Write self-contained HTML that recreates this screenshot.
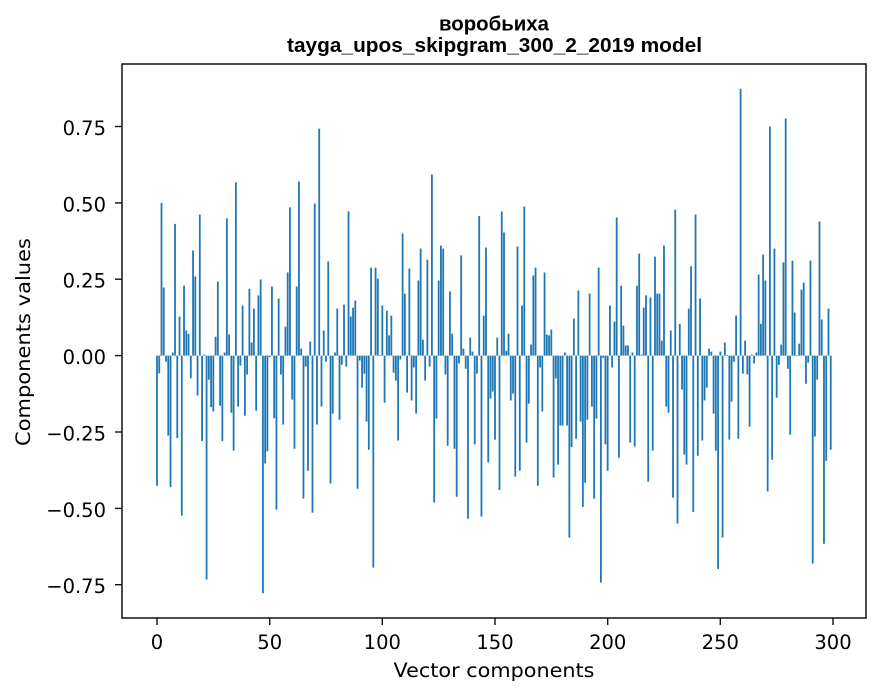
<!DOCTYPE html>
<html><head><meta charset="utf-8"><style>
html,body{margin:0;padding:0;background:#fff;}
svg{display:block;}
.t{font-family:"DejaVu Sans","Liberation Sans",sans-serif;font-size:19.5px;fill:#000;}
.ti{font-family:"Liberation Sans","DejaVu Sans",sans-serif;font-weight:bold;font-size:20.6px;fill:#000;}
</style></head><body>
<svg width="880" height="696" viewBox="0 0 880 696" xmlns="http://www.w3.org/2000/svg">
<rect x="0" y="0" width="880" height="696" fill="#fff"/>
<g transform="translate(157,355.6) scale(2.2533,-305.5)" fill="#1f77b4">
<path d="M-.4 0h.8V-.426h-.8zM.6 0h.8V-.058h-.8zM1.6 0h.8V.5h-.8zM2.6 0h.8V.223h-.8zM3.6 0h.8V-.02h-.8zM4.6 0h.8V-.262h-.8zM5.6 0h.8V-.43h-.8zM6.6 0h.8V.01h-.8zM7.6 0h.8V.431h-.8zM8.6 0h.8V-.27h-.8zM9.6 0h.8V.128h-.8zM10.6 0h.8V-.524h-.8zM11.6 0h.8V.229h-.8zM12.6 0h.8V.082h-.8zM13.6 0h.8V.071h-.8zM14.6 0h.8V-.074h-.8zM15.6 0h.8V.344h-.8zM16.6 0h.8V.259h-.8zM17.6 0h.8V-.131h-.8zM18.6 0h.8V.462h-.8zM19.6 0h.8V-.28h-.8zM20.6 0h.8V.003h-.8zM21.6 0h.8V-.733h-.8zM22.6 0h.8V-.079h-.8zM23.6 0h.8V-.169h-.8zM24.6 0h.8V-.183h-.8zM25.6 0h.8V.062h-.8zM26.6 0h.8V.242h-.8zM27.6 0h.8V-.164h-.8zM28.6 0h.8V-.28h-.8zM29.6 0h.8V.01h-.8zM30.6 0h.8V.449h-.8zM31.6 0h.8V.069h-.8zM32.6 0h.8V-.187h-.8zM33.6 0h.8V-.311h-.8zM34.6 0h.8V.567h-.8zM35.6 0h.8V-.167h-.8zM36.6 0h.8V-.033h-.8zM37.6 0h.8V.164h-.8zM38.6 0h.8V-.197h-.8zM39.6 0h.8V-.062h-.8zM40.6 0h.8V.219h-.8zM41.6 0h.8V.043h-.8zM42.6 0h.8V.154h-.8zM43.6 0h.8V-.18h-.8zM44.6 0h.8V.197h-.8zM45.6 0h.8V.249h-.8zM46.6 0h.8V-.778h-.8zM47.6 0h.8V-.353h-.8zM48.6 0h.8V-.313h-.8zM49.6 0h.8V-.005h-.8z
M50.6 0h.8V.226h-.8zM51.6 0h.8V-.205h-.8zM52.6 0h.8V-.504h-.8zM53.6 0h.8V.187h-.8zM54.6 0h.8V-.062h-.8zM55.6 0h.8V-.226h-.8zM56.6 0h.8V.095h-.8zM57.6 0h.8V.272h-.8zM58.6 0h.8V.485h-.8zM59.6 0h.8V-.144h-.8zM60.6 0h.8V-.305h-.8zM61.6 0h.8V.226h-.8zM62.6 0h.8V.57h-.8zM63.6 0h.8V.023h-.8zM64.6 0h.8V-.468h-.8zM65.6 0h.8V-.036h-.8zM66.6 0h.8V-.377h-.8zM67.6 0h.8V.046h-.8zM68.6 0h.8V-.514h-.8zM69.6 0h.8V.498h-.8zM70.6 0h.8V-.226h-.8zM71.6 0h.8V.743h-.8zM72.6 0h.8V-.167h-.8zM73.6 0h.8V.082h-.8zM74.6 0h.8V-.02h-.8zM75.6 0h.8V.308h-.8zM76.6 0h.8V-.419h-.8zM77.6 0h.8V-.19h-.8zM78.6 0h.8V.01h-.8zM79.6 0h.8V.154h-.8zM80.6 0h.8V-.21h-.8zM81.6 0h.8V-.03h-.8zM82.6 0h.8V.167h-.8zM83.6 0h.8V-.036h-.8zM84.6 0h.8V.472h-.8zM85.6 0h.8V.128h-.8zM86.6 0h.8V.157h-.8zM87.6 0h.8V.18h-.8zM88.6 0h.8V-.436h-.8zM89.6 0h.8V-.016h-.8zM90.6 0h.8V-.105h-.8zM91.6 0h.8V-.059h-.8zM92.6 0h.8V-.216h-.8zM93.6 0h.8V-.308h-.8zM94.6 0h.8V.288h-.8zM95.6 0h.8V-.694h-.8zM96.6 0h.8V.288h-.8zM97.6 0h.8V.252h-.8zM98.6 0h.8V.002h-.8zM99.6 0h.8V.164h-.8z
M100.6 0h.8V-.154h-.8zM101.6 0h.8V.147h-.8zM102.6 0h.8V.066h-.8zM103.6 0h.8V.131h-.8zM104.6 0h.8V-.056h-.8zM105.6 0h.8V-.082h-.8zM106.6 0h.8V-.278h-.8zM107.6 0h.8V-.013h-.8zM108.6 0h.8V.4h-.8zM109.6 0h.8V.203h-.8zM110.6 0h.8V-.121h-.8zM111.6 0h.8V.285h-.8zM112.6 0h.8V-.147h-.8zM113.6 0h.8V-.039h-.8zM114.6 0h.8V-.19h-.8zM115.6 0h.8V.246h-.8zM116.6 0h.8V.35h-.8zM117.6 0h.8V.052h-.8zM118.6 0h.8V-.082h-.8zM119.6 0h.8V.314h-.8zM120.6 0h.8V-.036h-.8zM121.6 0h.8V.593h-.8zM122.6 0h.8V-.481h-.8zM123.6 0h.8V-.206h-.8zM124.6 0h.8V.246h-.8zM125.6 0h.8V.36h-.8zM126.6 0h.8V.35h-.8zM127.6 0h.8V-.062h-.8zM128.6 0h.8V-.295h-.8zM129.6 0h.8V.21h-.8zM130.6 0h.8V.072h-.8zM131.6 0h.8V-.305h-.8zM132.6 0h.8V-.462h-.8zM133.6 0h.8V-.026h-.8zM134.6 0h.8V.328h-.8zM135.6 0h.8V.023h-.8zM136.6 0h.8V-.043h-.8zM137.6 0h.8V-.534h-.8zM138.6 0h.8V.059h-.8zM139.6 0h.8V.013h-.8zM140.6 0h.8V-.29h-.8zM141.6 0h.8V-.059h-.8zM142.6 0h.8V.457h-.8zM143.6 0h.8V-.527h-.8zM144.6 0h.8V.131h-.8zM145.6 0h.8V.354h-.8zM146.6 0h.8V-.35h-.8zM147.6 0h.8V-.141h-.8zM148.6 0h.8V-.118h-.8zM149.6 0h.8V-.275h-.8z
M150.6 0h.8V.059h-.8zM151.6 0h.8V-.44h-.8zM152.6 0h.8V.472h-.8zM153.6 0h.8V.403h-.8zM154.6 0h.8V.016h-.8zM155.6 0h.8V.072h-.8zM156.6 0h.8V-.147h-.8zM157.6 0h.8V-.124h-.8zM158.6 0h.8V-.396h-.8zM159.6 0h.8V.357h-.8zM160.6 0h.8V-.377h-.8zM161.6 0h.8V.164h-.8zM162.6 0h.8V.488h-.8zM163.6 0h.8V-.285h-.8zM164.6 0h.8V-.157h-.8zM165.6 0h.8V.036h-.8zM166.6 0h.8V.262h-.8zM167.6 0h.8V.288h-.8zM168.6 0h.8V-.426h-.8zM169.6 0h.8V-.039h-.8zM170.6 0h.8V-.183h-.8zM171.6 0h.8V.272h-.8zM172.6 0h.8V.069h-.8zM173.6 0h.8V.066h-.8zM174.6 0h.8V.085h-.8zM175.6 0h.8V-.399h-.8zM176.6 0h.8V-.075h-.8zM177.6 0h.8V-.357h-.8zM178.6 0h.8V-.229h-.8zM179.6 0h.8V-.229h-.8zM180.6 0h.8V.01h-.8zM181.6 0h.8V-.229h-.8zM182.6 0h.8V-.596h-.8zM183.6 0h.8V-.299h-.8zM184.6 0h.8V.121h-.8zM185.6 0h.8V-.272h-.8zM186.6 0h.8V.213h-.8zM187.6 0h.8V-.216h-.8zM188.6 0h.8V-.495h-.8zM189.6 0h.8V-.416h-.8zM190.6 0h.8V-.21h-.8zM191.6 0h.8V.203h-.8zM192.6 0h.8V-.167h-.8zM193.6 0h.8V-.468h-.8zM194.6 0h.8V-.206h-.8zM195.6 0h.8V.288h-.8zM196.6 0h.8V-.743h-.8zM197.6 0h.8V-.007h-.8zM198.6 0h.8V-.29h-.8zM199.6 0h.8V-.377h-.8z
M200.6 0h.8V.164h-.8zM201.6 0h.8V-.039h-.8zM202.6 0h.8V.111h-.8zM203.6 0h.8V.452h-.8zM204.6 0h.8V-.334h-.8zM205.6 0h.8V.229h-.8zM206.6 0h.8V.098h-.8zM207.6 0h.8V.033h-.8zM208.6 0h.8V.033h-.8zM209.6 0h.8V-.285h-.8zM210.6 0h.8V.01h-.8zM211.6 0h.8V-.298h-.8zM212.6 0h.8V.229h-.8zM213.6 0h.8V.334h-.8zM214.6 0h.8V.003h-.8zM215.6 0h.8V.157h-.8zM216.6 0h.8V.197h-.8zM217.6 0h.8V-.413h-.8zM218.6 0h.8V.19h-.8zM219.6 0h.8V-.311h-.8zM220.6 0h.8V.324h-.8zM221.6 0h.8V.203h-.8zM222.6 0h.8V.203h-.8zM223.6 0h.8V.049h-.8zM224.6 0h.8V.36h-.8zM225.6 0h.8V-.167h-.8zM226.6 0h.8V-.187h-.8zM227.6 0h.8V.082h-.8zM228.6 0h.8V-.465h-.8zM229.6 0h.8V.478h-.8zM230.6 0h.8V-.55h-.8zM231.6 0h.8V.104h-.8zM232.6 0h.8V-.111h-.8zM233.6 0h.8V-.324h-.8zM234.6 0h.8V-.357h-.8zM235.6 0h.8V.154h-.8zM236.6 0h.8V.292h-.8zM237.6 0h.8V-.512h-.8zM238.6 0h.8V.462h-.8zM239.6 0h.8V-.328h-.8zM240.6 0h.8V.187h-.8zM241.6 0h.8V-.278h-.8zM242.6 0h.8V-.147h-.8zM243.6 0h.8V-.105h-.8zM244.6 0h.8V.023h-.8zM245.6 0h.8V.013h-.8zM246.6 0h.8V-.19h-.8zM247.6 0h.8V-.311h-.8zM248.6 0h.8V-.698h-.8zM249.6 0h.8V.013h-.8z
M250.6 0h.8V-.596h-.8zM251.6 0h.8V.043h-.8zM252.6 0h.8V.002h-.8zM253.6 0h.8V-.275h-.8zM254.6 0h.8V-.151h-.8zM255.6 0h.8V-.02h-.8zM256.6 0h.8V.131h-.8zM257.6 0h.8V-.272h-.8zM258.6 0h.8V.873h-.8zM259.6 0h.8V-.059h-.8zM260.6 0h.8V.049h-.8zM261.6 0h.8V-.062h-.8zM262.6 0h.8V-.233h-.8zM263.6 0h.8V.003h-.8zM264.6 0h.8V-.026h-.8zM265.6 0h.8V.01h-.8zM266.6 0h.8V.265h-.8zM267.6 0h.8V.104h-.8zM268.6 0h.8V.331h-.8zM269.6 0h.8V.246h-.8zM270.6 0h.8V-.445h-.8zM271.6 0h.8V.75h-.8zM272.6 0h.8V-.341h-.8zM273.6 0h.8V.35h-.8zM274.6 0h.8V-.138h-.8zM275.6 0h.8V-.03h-.8zM276.6 0h.8V.036h-.8zM277.6 0h.8V.305h-.8zM278.6 0h.8V.776h-.8zM279.6 0h.8V-.043h-.8zM280.6 0h.8V-.259h-.8zM281.6 0h.8V.311h-.8zM282.6 0h.8V.141h-.8zM283.6 0h.8V.002h-.8zM284.6 0h.8V.039h-.8zM285.6 0h.8V.216h-.8zM286.6 0h.8V.239h-.8zM287.6 0h.8V-.092h-.8zM288.6 0h.8V-.023h-.8zM289.6 0h.8V.311h-.8zM290.6 0h.8V-.681h-.8zM291.6 0h.8V-.265h-.8zM292.6 0h.8V-.079h-.8zM293.6 0h.8V.439h-.8zM294.6 0h.8V.118h-.8zM295.6 0h.8V-.616h-.8zM296.6 0h.8V-.344h-.8zM297.6 0h.8V.154h-.8zM298.6 0h.8V-.308h-.8z"/>
</g>
<!-- spines -->
<rect x="122" y="64" width="744" height="554" fill="none" stroke="#111" stroke-width="1.5"/>
<!-- y ticks -->
<g stroke="#111" stroke-width="1.4">
<line x1="115" y1="126.5" x2="122" y2="126.5"/>
<line x1="115" y1="202.9" x2="122" y2="202.9"/>
<line x1="115" y1="279.2" x2="122" y2="279.2"/>
<line x1="115" y1="355.6" x2="122" y2="355.6"/>
<line x1="115" y1="432" x2="122" y2="432"/>
<line x1="115" y1="508.4" x2="122" y2="508.4"/>
<line x1="115" y1="584.7" x2="122" y2="584.7"/>
</g>
<g class="t" text-anchor="end">
<text x="106" y="135">0.75</text>
<text x="106" y="211.4">0.50</text>
<text x="106" y="287.7">0.25</text>
<text x="106" y="364.1">0.00</text>
<text x="106" y="440.5">−0.25</text>
<text x="106" y="516.9">−0.50</text>
<text x="106" y="593.2">−0.75</text>
</g>
<!-- x ticks -->
<g stroke="#111" stroke-width="1.4">
<line x1="157" y1="618" x2="157" y2="625"/>
<line x1="269.7" y1="618" x2="269.7" y2="625"/>
<line x1="382.3" y1="618" x2="382.3" y2="625"/>
<line x1="495" y1="618" x2="495" y2="625"/>
<line x1="607.7" y1="618" x2="607.7" y2="625"/>
<line x1="720.3" y1="618" x2="720.3" y2="625"/>
<line x1="833" y1="618" x2="833" y2="625"/>
</g>
<g class="t" text-anchor="middle">
<text x="157" y="649">0</text>
<text x="269.7" y="649">50</text>
<text x="382.3" y="649">100</text>
<text x="495" y="649">150</text>
<text x="607.7" y="649">200</text>
<text x="720.3" y="649">250</text>
<text x="833" y="649">300</text>
</g>
<!-- axis labels -->
<text class="t" x="494" y="677" text-anchor="middle" textLength="201" lengthAdjust="spacingAndGlyphs">Vector components</text>
<text class="t" x="0" y="0" text-anchor="middle" transform="translate(30,342) rotate(-90)" textLength="208" lengthAdjust="spacingAndGlyphs">Components values</text>
<!-- title -->
<text class="ti" x="494" y="30.5" text-anchor="middle" textLength="110" lengthAdjust="spacingAndGlyphs">воробьиха</text>
<text class="ti" x="494.5" y="52" text-anchor="middle" textLength="415" lengthAdjust="spacingAndGlyphs">tayga_upos_skipgram_300_2_2019 model</text>
</svg>
</body></html>
